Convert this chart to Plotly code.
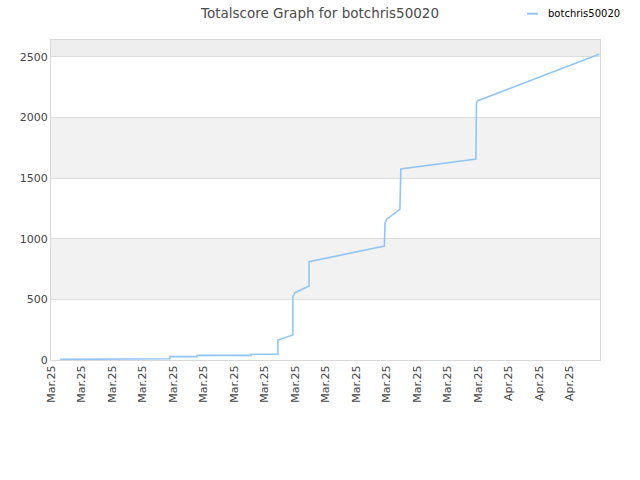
import plotly.graph_objects as go

# data (x = position along the category axis, y = total score)
x_pos = [0.30, 2.10, 2.10, 3.90, 3.90, 4.79, 4.79, 6.56, 6.56, 7.44, 7.44,
         7.93, 7.93, 8.00, 8.46, 8.46, 10.93, 10.95, 11.00, 11.44, 11.47,
         13.93, 13.95, 13.98, 17.97]
scores = [5, 5, 10, 10, 28, 28, 38, 38, 47, 47, 165,
          206, 522, 555, 610, 811, 940, 1122, 1160, 1243, 1576,
          1658, 2118, 2137, 2522]
tick_pos = list(range(18))
tick_labels = ["Mar.25"] * 15 + ["Apr.25"] * 3
series_name = "botchris50020"
title_text = "Totalscore Graph for botchris50020"
line_color = "#92c5f5"

# plot area in screen pixels: x 51..600, y 40..360
def px_x(p):
    return (p - 51) / 549.0

def px_y(p):
    return (360 - p) / 320.0

fig = go.Figure()
fig.add_trace(go.Scatter(x=x_pos, y=scores, mode="lines", name=series_name,
                         line=dict(color=line_color, width=1.6), showlegend=False,
                         hoverinfo="skip"))

# alternating background bands
bands = [(500, 1000), (1500, 2000), (2500, 2640)]
for lo, hi in bands:
    fig.add_shape(type="rect", xref="paper", x0=0, x1=1, yref="y", y0=lo, y1=hi,
                  fillcolor="#f2f2f2" if hi != 2640 else "#eeeeee",
                  line=dict(width=0), layer="below")

# legend drawn manually
fig.add_shape(type="line", xref="paper", yref="paper",
              x0=px_x(527), x1=px_x(538), y0=px_y(13.7), y1=px_y(13.7),
              line=dict(color=line_color, width=2))
fig.add_annotation(text=series_name, xref="paper", yref="paper",
                   x=px_x(546), y=px_y(13.5), xanchor="left", yanchor="middle",
                   showarrow=False, font=dict(family="DejaVu Sans", size=10, color="#000000"))
# title
fig.add_annotation(text=title_text, xref="paper", yref="paper",
                   x=px_x(319), y=px_y(12.5), xanchor="center", yanchor="middle",
                   showarrow=False, font=dict(family="DejaVu Sans", size=13.5, color="#4a4a4a"))

fig.update_layout(
    width=640, height=480,
    margin=dict(l=51, r=40, t=40, b=120, autoexpand=False),
    paper_bgcolor="white", plot_bgcolor="white",
    font=dict(family="DejaVu Sans", size=11, color="#444444"),
    showlegend=False,
    hovermode=False,
    xaxis=dict(range=[0, 18], tickvals=tick_pos, ticktext=tick_labels, tickangle=-90,
               showgrid=False, zeroline=False, showline=True, linecolor="#d8d8d8",
               mirror=True, ticks="", tickfont=dict(size=11, color="#444444")),
    yaxis=dict(range=[0, 2640], tickvals=[0, 500, 1000, 1500, 2000, 2500],
               showgrid=True, gridcolor="#dddddd", zeroline=False, showline=True,
               linecolor="#d8d8d8", mirror=True, ticks="",
               tickfont=dict(size=11, color="#444444")),
)

fig.write_html("out.html", config={"displayModeBar": False},
               post_script="document.body.style.margin='0';")
